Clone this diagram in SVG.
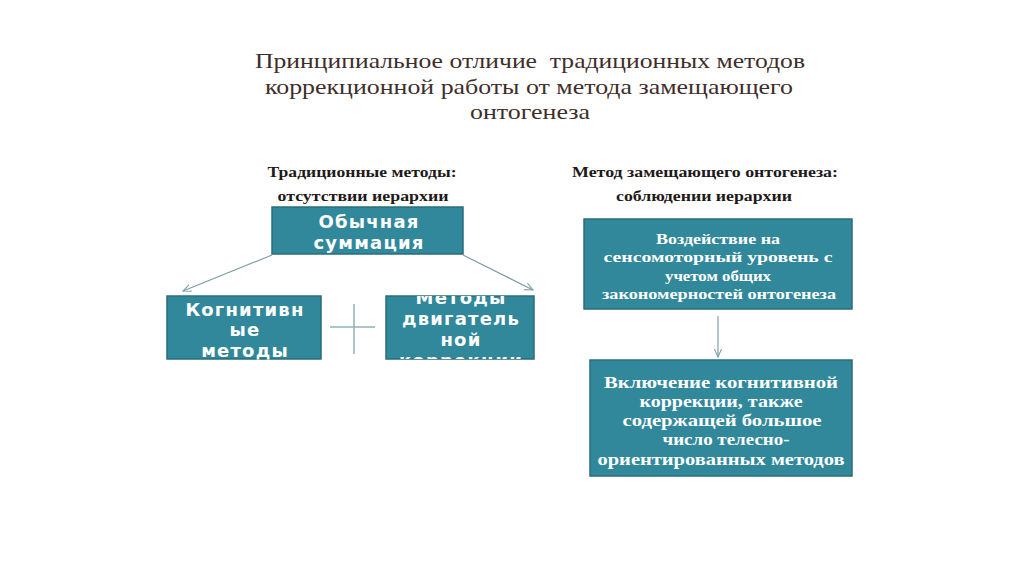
<svg xmlns="http://www.w3.org/2000/svg" width="1024" height="574" viewBox="0 0 1024 574">
<defs>
<style>
.box{fill:#31889b;stroke:#2a6d7c;stroke-width:1.5}
.title{font-family:"Liberation Serif","Times New Roman",serif;font-size:22px;fill:#3e2e2c;text-anchor:middle}
.sub{font-family:"Liberation Serif","Times New Roman",serif;font-size:15px;font-weight:bold;fill:#1e1a1a;text-anchor:middle}
.sans{font-family:"DejaVu Sans",Verdana,sans-serif;font-size:18px;font-weight:bold;fill:#ffffff;text-anchor:middle;letter-spacing:1.2px}
.serifw{font-family:"Liberation Serif","Times New Roman",serif;font-weight:bold;fill:#ffffff;text-anchor:middle}
.conn{stroke:#7f9ea8;stroke-width:1.2;fill:none;marker-end:url(#arr)}
</style>
<marker id="arr" viewBox="0 0 10 10" refX="9" refY="5" markerWidth="9" markerHeight="9" orient="auto" markerUnits="userSpaceOnUse">
<path d="M0,1 L9,5 L0,9" fill="none" stroke="#7f9ea8" stroke-width="1.2"/>
</marker>
<clipPath id="clipMot"><rect x="386" y="296" width="148" height="63"/></clipPath>
</defs>
<rect width="1024" height="574" fill="#ffffff"/>

<g id="title">
<text class="title" x="530" y="68" textLength="550" lengthAdjust="spacingAndGlyphs" xml:space="preserve">Принципиальное отличие  традиционных методов</text>
<text class="title" x="529" y="94" textLength="528" lengthAdjust="spacingAndGlyphs">коррекционной работы от метода замещающего</text>
<text class="title" x="530" y="119" textLength="120" lengthAdjust="spacingAndGlyphs">онтогенеза</text>
</g>

<g id="heading-left">
<text class="sub" x="362" y="177" textLength="189" lengthAdjust="spacingAndGlyphs">Традиционные методы:</text>
<text class="sub" x="363" y="201" textLength="171" lengthAdjust="spacingAndGlyphs">отсутствии иерархии</text>
</g>
<g id="heading-right">
<text class="sub" x="705" y="177" textLength="266" lengthAdjust="spacingAndGlyphs">Метод замещающего онтогенеза:</text>
<text class="sub" x="704" y="201" textLength="176" lengthAdjust="spacingAndGlyphs">соблюдении иерархии</text>
</g>

<g id="connectors">
<line class="conn" x1="272" y1="255" x2="183" y2="291"/>
<line class="conn" x1="463" y1="255" x2="533" y2="290"/>
<line class="conn" x1="718" y1="316" x2="718" y2="357"/>
</g>

<g id="plus">
<line x1="330" y1="327" x2="375" y2="327" stroke="#8fb2bb" stroke-width="1.5"/>
<line x1="354" y1="304" x2="354" y2="354" stroke="#8fb2bb" stroke-width="1.5"/>
</g>

<g id="node-summ">
<rect class="box" x="272" y="207" width="191" height="47"/>
<text class="sans" x="369" y="228">Обычная</text>
<text class="sans" x="369" y="249">суммация</text>
</g>

<g id="node-cog">
<rect class="box" x="167" y="296" width="154" height="63"/>
<text class="sans" x="245" y="316">Когнитивн</text>
<text class="sans" x="245" y="336">ые</text>
<text class="sans" x="245" y="357">методы</text>
</g>

<g id="node-motor">
<rect class="box" x="386" y="296" width="148" height="63"/>
<g clip-path="url(#clipMot)">
<text class="sans" x="461" y="304">Методы</text>
<text class="sans" x="461" y="325">двигатель</text>
<text class="sans" x="461" y="346">ной</text>
<text class="sans" x="461" y="367">коррекции</text>
</g>
</g>

<g id="node-sensor">
<rect class="box" x="584" y="219" width="268" height="90"/>
<text class="serifw" font-size="14" x="718" y="244" textLength="124" lengthAdjust="spacingAndGlyphs">Воздействие на</text>
<text class="serifw" font-size="14" x="718" y="262" textLength="229" lengthAdjust="spacingAndGlyphs">сенсомоторный уровень с</text>
<text class="serifw" font-size="14" x="718" y="281" textLength="106" lengthAdjust="spacingAndGlyphs">учетом общих</text>
<text class="serifw" font-size="14" x="719" y="299" textLength="234" lengthAdjust="spacingAndGlyphs">закономерностей онтогенеза</text>
</g>

<g id="node-cogcorr">
<rect class="box" x="590" y="360" width="262" height="116"/>
<text class="serifw" font-size="16" x="721" y="388" textLength="234" lengthAdjust="spacingAndGlyphs">Включение когнитивной</text>
<text class="serifw" font-size="16" x="721" y="407" textLength="163" lengthAdjust="spacingAndGlyphs">коррекции, также</text>
<text class="serifw" font-size="16" x="722" y="426" textLength="199" lengthAdjust="spacingAndGlyphs">содержащей большое</text>
<text class="serifw" font-size="16" x="726" y="445" textLength="127" lengthAdjust="spacingAndGlyphs">число телесно-</text>
<text class="serifw" font-size="16" x="721" y="465" textLength="247" lengthAdjust="spacingAndGlyphs">ориентированных методов</text>
</g>
</svg>
